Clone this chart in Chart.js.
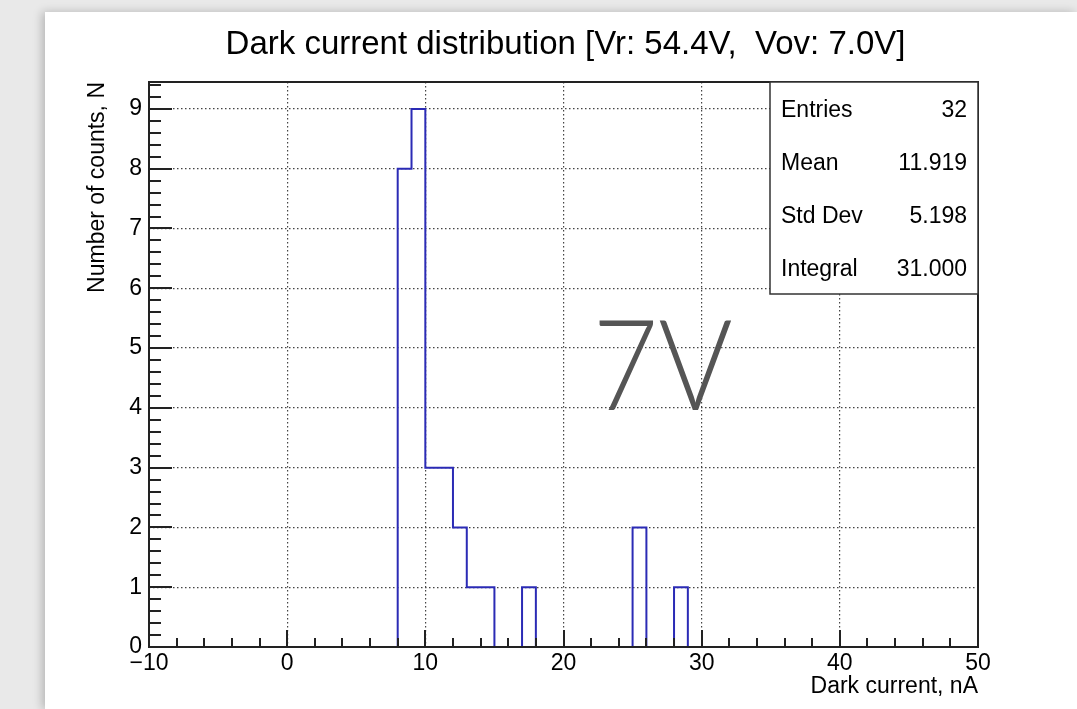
<!DOCTYPE html>
<html>
<head>
<meta charset="utf-8">
<script src="https://cdn.jsdelivr.net/npm/chart.js@4/dist/chart.umd.min.js"></script>
<style>
  html, body { margin: 0; padding: 0; }
  body { width: 1077px; height: 709px; background: #e9e9e9; overflow: hidden; position: relative; }
  #card { position: absolute; left: 45px; top: 12px; width: 1032px; height: 697px; background: #fff; box-shadow: -3px 0 9px rgba(0,0,0,0.22); }
</style>
</head>
<body>
<div id="card"><canvas id="hist" width="1032" height="697"></canvas></div>
<script>
// histogram bins (lower edge, nA) and counts
const binLow = [8, 9, 10, 11, 12, 13, 14, 15, 16, 17, 18, 19, 20, 21, 22, 23, 24, 25, 26, 27, 28]
const counts = [8, 9, 3, 3, 2, 1, 1, 0, 0, 1, 0, 0, 0, 0, 0, 0, 0, 2, 0, 0, 1]
const binWidth = 1

const xRange = [-10, 50]
const yRange = [0, 9.45]

const statLabels = ['Entries', 'Mean', 'Std Dev', 'Integral']
const statValues = ['32', '11.919', '5.198', '31.000']

const titleText = 'Dark current distribution [Vr: 54.4V,  Vov: 7.0V]'
const xTitle = 'Dark current, nA'
const yTitle = 'Number of counts, N'
const stamp = { text: '7V', x: 22.1, y: 3.97 }

const FONT = "'Liberation Sans', Arial, sans-serif"
const lineBlue = '#2b2bb5'

// outline of the histogram as a step line
const points = [{ x: binLow[0], y: 0 }]
binLow.forEach((x, i) => points.push({ x: x, y: counts[i] }))
points.push({ x: binLow[binLow.length - 1] + binWidth, y: 0 })

const rootFrame = {
  id: 'rootFrame',
  beforeDatasetsDraw(chart) {
    const { ctx, scales: { x, y } } = chart
    ctx.save()
    ctx.translate(x.getPixelForValue(stamp.x), y.getPixelForValue(stamp.y))
    ctx.scale(0.9, 1)
    ctx.font = '300 126px Lato'
    ctx.fillStyle = '#555'
    ctx.textBaseline = 'alphabetic'
    ctx.fillText(stamp.text, 0, 0)
    ctx.restore()
  },
  afterDatasetsDraw(chart) {
    const { ctx, chartArea: a, scales: { x, y } } = chart
    ctx.save()
    ctx.strokeStyle = '#222'
    ctx.lineWidth = 2

    // y ticks, pointing into the frame
    const yStep = y.options.ticks.stepSize / 5
    for (let k = 0; y.min + k * yStep <= y.max + 1e-9; k++) {
      const v = y.min + k * yStep
      const py = Math.round(y.getPixelForValue(v))
      const len = k % 5 === 0 ? 23 : 12
      ctx.beginPath(); ctx.moveTo(a.left, py); ctx.lineTo(a.left + len, py); ctx.stroke()
    }
    // x ticks
    const xStep = x.options.ticks.stepSize / 5
    for (let k = 0; x.min + k * xStep <= x.max + 1e-9; k++) {
      const v = x.min + k * xStep
      const px = Math.round(x.getPixelForValue(v))
      const len = k % 5 === 0 ? 17 : 9
      ctx.beginPath(); ctx.moveTo(px, a.bottom); ctx.lineTo(px, a.bottom - len); ctx.stroke()
    }

    ctx.strokeRect(a.left, a.top, a.right - a.left, a.bottom - a.top)

    // stats box
    const bw = 208, bh = 212
    const bx = a.right - bw, by = a.top
    ctx.fillStyle = '#fff'
    ctx.fillRect(bx, by, bw, bh)
    ctx.lineWidth = 1.5
    ctx.strokeStyle = '#333'
    ctx.strokeRect(bx, by, bw, bh)
    ctx.fillStyle = '#000'
    ctx.font = '23px ' + FONT
    ctx.textBaseline = 'alphabetic'
    const rowH = bh / statLabels.length
    statLabels.forEach((lab, i) => {
      const ty = by + (i + 0.5) * rowH + 8.5
      ctx.textAlign = 'left'
      ctx.fillText(lab, bx + 11, ty)
      ctx.textAlign = 'right'
      ctx.fillText(statValues[i], bx + bw - 11, ty)
    })
    ctx.restore()
  }
}

const tickFont = { family: FONT, size: 23 }

new Chart(document.getElementById('hist'), {
  type: 'line',
  data: {
    datasets: [{
      data: points,
      stepped: 'before',
      borderColor: lineBlue,
      borderWidth: 2,
      pointRadius: 0,
      fill: false
    }]
  },
  options: {
    responsive: false,
    animation: false,
    layout: { padding: { left: 9, right: 0, top: 0, bottom: 0 } },
    plugins: {
      legend: { display: false },
      tooltip: { enabled: false },
      title: {
        display: true,
        text: titleText,
        color: '#000',
        font: { family: FONT, size: 33, weight: 'normal' },
        padding: { top: 13, bottom: 17.4 }
      }
    },
    scales: {
      x: {
        type: 'linear',
        min: xRange[0],
        max: xRange[1],
        ticks: {
          stepSize: 10,
          color: '#000',
          font: tickFont,
          padding: 3,
          maxRotation: 0,
          callback: v => v < 0 ? '\u2212' + Math.abs(v) : String(v)
        },
        grid: {
          drawTicks: false,
          lineWidth: 1.2,
          color: c => (c.tick && (c.tick.value === xRange[0] || c.tick.value === xRange[1])) ? 'rgba(0,0,0,0)' : '#444'
        },
        border: { display: false, dash: [1.5, 2.5] },
        title: {
          display: true,
          text: xTitle,
          align: 'end',
          color: '#000',
          font: { family: FONT, size: 23 },
          padding: { top: 0, bottom: 9 }
        },
        afterFit: s => { s.height = 62 }
      },
      y: {
        min: yRange[0],
        max: yRange[1],
        ticks: {
          stepSize: 1,
          includeBounds: false,
          color: '#000',
          font: tickFont,
          padding: 7,
          callback: v => Number.isInteger(v) ? String(v) : ''
        },
        grid: {
          drawTicks: false,
          lineWidth: 1.2,
          color: c => (c.tick && c.tick.value === yRange[0]) ? 'rgba(0,0,0,0)' : '#444'
        },
        border: { display: false, dash: [1.5, 2.5] },
        title: {
          display: true,
          text: yTitle,
          align: 'end',
          color: '#000',
          font: { family: FONT, size: 23 },
          padding: { top: 30, bottom: 0 }
        },
        afterFit: s => { s.width = 95 }
      },
      pad: {
        position: 'right',
        display: true,
        ticks: { display: false },
        grid: { display: false },
        border: { display: false },
        afterFit: s => { s.width = 99 }
      }
    }
  },
  plugins: [rootFrame]
})
</script>
</body>
</html>
